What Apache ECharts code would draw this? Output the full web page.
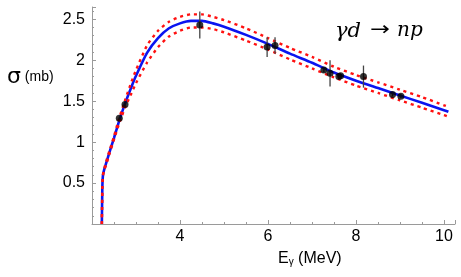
<!DOCTYPE html>
<html><head><meta charset="utf-8">
<script src="https://cdn.jsdelivr.net/npm/echarts@6/dist/echarts.min.js"></script>
<style>html,body{margin:0;padding:0;background:#fff}#c{width:461px;height:277px}</style>
</head><body><div id="c"></div>
<script>
// Curve energies (MeV) and cross sections (mb)
const curveE       = [2.224, 2.235, 2.25, 2.28, 2.32, 2.4, 2.5, 2.6, 2.75, 2.9, 3.0, 3.25, 3.5, 3.75, 4.0, 4.25, 4.5, 4.75, 5.0, 5.5, 6.0, 6.5, 7.0, 7.5, 8.0, 8.5, 9.0, 9.5, 10.0, 10.1];
const sigmaCentral = [0, 0.45, 0.60, 0.67, 0.74, 0.88, 1.05, 1.23, 1.47, 1.68, 1.81, 2.09, 2.27, 2.39, 2.45, 2.48, 2.48, 2.45, 2.41, 2.31, 2.20, 2.08, 1.97, 1.85, 1.75, 1.66, 1.57, 1.48, 1.39, 1.37];
const sigmaUpper   = [0, 0.46, 0.61, 0.68, 0.76, 0.90, 1.07, 1.26, 1.51, 1.74, 1.88, 2.18, 2.36, 2.47, 2.53, 2.56, 2.56, 2.53, 2.49, 2.39, 2.27, 2.15, 2.04, 1.92, 1.82, 1.73, 1.64, 1.55, 1.45, 1.43];
const sigmaLower   = [0, 0.44, 0.59, 0.66, 0.72, 0.86, 1.03, 1.20, 1.42, 1.60, 1.72, 1.97, 2.16, 2.29, 2.36, 2.40, 2.40, 2.38, 2.34, 2.24, 2.13, 2.01, 1.90, 1.79, 1.69, 1.60, 1.51, 1.42, 1.33, 1.31];
// Measured points
const dataE     = [2.62, 2.75, 4.45, 5.98, 6.16, 7.27, 7.41, 7.61, 7.65, 8.17, 8.83, 9.02];
const dataSigma = [1.29, 1.46, 2.43, 2.16, 2.18, 1.88, 1.84, 1.80, 1.81, 1.80, 1.58, 1.56];
const dataErr   = [0.02, 0.02, 0.165, 0.12, 0.10, 0.03, 0.16, 0.02, 0.02, 0.135, 0.02, 0.02];
// Tick labels shown
const xTickLabels = [4, 6, 8, 10];
const yTickLabels = [0.5, 1, 1.5, 2, 2.5];

const zip = (a, b) => a.map((v, i) => [v, b[i]]);
const chart = echarts.init(document.getElementById('c'));
const axisCol = '#9a9a9a';
chart.setOption({
  animation: false,
  grid: {left: 92, right: 6, top: 7, bottom: 53, containLabel: false},
  xAxis: {
    type: 'value', min: 2, max: 10.25, interval: 2,
    axisLine: {show: true, lineStyle: {color: axisCol, width: 1}},
    axisTick: {show: true, inside: true, length: 4, lineStyle: {color: axisCol}},
    minorTick: {show: true, splitNumber: 4, length: 2, lineStyle: {color: axisCol}},
    splitLine: {show: false},
    axisLabel: {color: '#000', fontSize: 16, fontFamily: 'Liberation Sans', margin: 5,
      formatter: v => xTickLabels.some(t => Math.abs(t - v) < 1e-9) ? String(v) : ''}
  },
  yAxis: {
    type: 'value', min: 0, max: 2.65, interval: 0.5,
    axisLine: {show: true, lineStyle: {color: axisCol, width: 1}},
    axisTick: {show: true, inside: true, length: 4, lineStyle: {color: axisCol}},
    minorTick: {show: true, splitNumber: 5, length: 2, lineStyle: {color: axisCol}},
    splitLine: {show: false},
    axisLabel: {color: '#000', fontSize: 16, fontFamily: 'Liberation Sans', margin: 7,
      formatter: v => yTickLabels.some(t => Math.abs(t - v) < 1e-9) ? String(v) : ''}
  },
  graphic: [
    {type: 'text', left: 7, top: 66, style: {
      text: '{g|σ}{m| (mb)}',
      rich: {g: {fontSize: 22, fontFamily: 'DejaVu Sans', fill: '#000'},
             m: {fontSize: 14, fontFamily: 'Liberation Sans', fill: '#000'}}}},
    {type: 'text', left: 278, top: 251, style: {
      text: '{e|E}{s|γ}{e| (MeV)}',
      rich: {e: {fontSize: 16, fontFamily: 'Liberation Sans', fill: '#000'},
             s: {fontSize: 10, fontFamily: 'Liberation Sans', fill: '#000', padding: [7, 0, 0, 0]}}}},
    {type: 'text', left: 335, top: 21, style: {
      text: 'γd', fontSize: 21, fontFamily: 'DejaVu Serif', fontStyle: 'italic', fill: '#000'}},
    {type: 'text', x: 370, y: 21, scaleX: 1.25, style: {
      text: '→', fontSize: 19, fontFamily: 'DejaVu Sans', fill: '#000'}},
    {type: 'text', left: 397, top: 21, style: {
      text: 'np', fontSize: 20, fontFamily: 'DejaVu Serif', fontStyle: 'italic', fill: '#000'}}
  ],
  series: [
    {type: 'line', data: zip(curveE, sigmaCentral), showSymbol: false, smooth: 0.2,
     lineStyle: {color: '#0a14f0', width: 2.6}, z: 2},
    {type: 'line', data: zip(curveE, sigmaUpper), showSymbol: false, smooth: 0.2,
     lineStyle: {color: '#ff1010', width: 2.4, type: [3, 4]}, z: 3},
    {type: 'line', data: zip(curveE, sigmaLower), showSymbol: false, smooth: 0.2,
     lineStyle: {color: '#ff1010', width: 2.4, type: [3, 4]}, z: 3},
    {type: 'custom', z: 4,
     data: dataE.map((e, i) => [e, dataSigma[i] - dataErr[i], dataSigma[i] + dataErr[i]]),
     renderItem: (params, api) => {
       const p1 = api.coord([api.value(0), api.value(1)]);
       const p2 = api.coord([api.value(0), api.value(2)]);
       return {type: 'line', shape: {x1: p1[0], y1: p1[1], x2: p2[0], y2: p2[1]},
               style: {stroke: '#444', lineWidth: 1.3}};
     }},
    {type: 'scatter', data: zip(dataE, dataSigma), symbol: 'circle', symbolSize: 7,
     itemStyle: {color: '#000'}, z: 5}
  ]
});
</script></body></html>
